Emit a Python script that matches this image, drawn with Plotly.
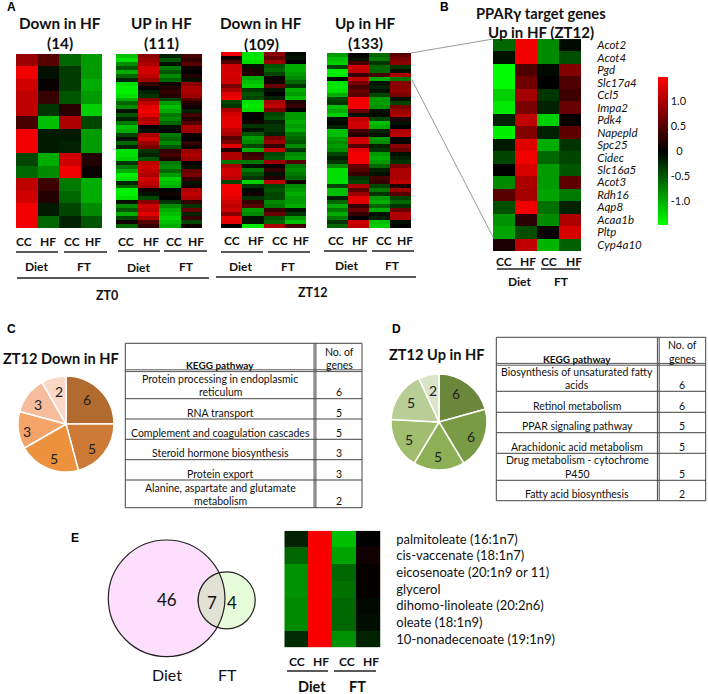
import numpy as np
import plotly.graph_objects as go

W, H = 708, 694
ZMAX = 1.48
COLORS = [[0, "rgb(0,255,0)"], [0.5, "rgb(0,0,0)"], [1, "rgb(255,0,0)"]]
GROUPS = ["CC", "HF", "CC ", "HF "]

down_zt0 = [
    [0.9, 0.5, -0.6, -0.9], [1.4, -0.1, -0.35, -0.9], [1.2, 0.05, -0.35, -1.0], [1.1, 0.3, -0.5, -0.9],
    [1.1, -0.3, 0.25, -1.2], [0.4, -1.1, 1.0, -0.4], [1.4, -0.15, -0.15, -0.9], [1.4, -0.15, -0.2, -0.9],
    [-0.4, -1.0, 1.2, 0.2], [-0.6, -0.8, 1.4, 0.05], [1.1, 0.35, -0.7, -1.0], [1.2, 0.2, -0.6, -1.0],
    [1.4, -0.15, -0.4, -0.8], [1.4, -0.6, -0.2, -0.5],
]
up_zt0 = [
    [-1.1, 0.8, -0.2, 0.4], [-1.3, 0.9, -0.5, 0.3], [-0.8, 1.0, -0.1, 0.5], [-0.5, 1.2, -0.7, 0.1],
    [-1.0, 1.2, -0.5, 0.0], [-0.6, 1.1, -0.8, 0.2], [-0.2, 0.9, -0.6, -0.1], [-1.3, 0.3, 0.1, 0.8],
    [-1.4, 0.0, 0.2, 1.0], [-1.4, -0.2, 0.3, 1.0], [-1.3, -0.3, 0.2, 0.9], [-1.0, 0.8, -0.4, 0.5],
    [-0.6, 1.1, -0.9, 0.2], [-0.8, 1.3, -1.1, 0.1], [-0.1, 1.4, -1.0, -0.2], [-0.5, 1.3, -0.7, 0.4],
    [-0.2, 1.0, -0.8, 0.2], [-0.7, 1.1, -0.6, 0.5], [-1.1, 0.0, -0.1, 1.0], [-1.0, -0.1, 0.0, 0.9],
    [-0.4, 1.0, -0.7, 0.1], [-0.1, 1.2, -0.6, 0.0], [-0.6, 0.9, -0.8, 0.3], [-0.2, 0.7, -0.5, 0.1],
    [-1.3, -0.3, 0.3, 0.9], [-1.3, -0.2, 0.4, 1.0], [-1.2, -0.5, 0.2, 0.9], [-0.3, 1.1, -0.7, 0.0],
    [-0.7, 1.2, -0.8, -0.1], [-1.0, 1.1, -0.6, 0.6], [-1.4, 1.0, -0.9, 0.7], [-1.3, 1.2, -1.2, 0.3],
    [-0.2, 1.1, -1.1, -0.1], [-0.6, 1.0, -1.0, 0.1], [-1.4, 0.1, 0.0, 1.0], [-1.4, -0.1, 0.1, 1.1],
    [-1.3, -0.4, 0.0, 1.0], [-0.1, 0.8, -0.3, 0.3], [-0.8, 1.2, -0.8, -0.3], [-0.5, 1.1, -1.0, 0.6],
    [-1.0, 1.3, -1.1, -0.2], [-0.4, 1.0, -1.2, 0.3], [0.1, 0.5, -1.1, -0.4], [-0.6, 0.3, -1.0, 0.1],
]
down_zt12 = [
    [1.4, -1.3, 0.8, -0.05], [0.1, -1.35, 0.6, -0.1], [0.5, -1.3, 0.9, 0.0], [1.2, -0.1, -0.5, -1.0],
    [1.2, 0.15, -0.6, -1.0], [1.25, 0.2, -0.4, -0.9], [1.2, -1.0, 0.05, -0.8], [1.2, -1.1, 0.1, -0.6],
    [0.7, -1.2, 0.6, -0.3], [1.0, -0.3, -0.1, -1.0], [1.3, -0.5, 0.0, -0.9], [1.4, -0.4, -0.2, -1.1],
    [-0.4, -1.3, 1.0, 0.2], [-0.3, -1.35, 1.1, 0.3], [1.0, -1.3, 0.7, 0.0], [1.2, 0.05, -0.4, -0.9],
    [1.3, 0.0, -0.5, -0.9], [1.3, 0.1, -0.2, -1.0], [1.3, -0.3, -0.3, -0.9], [1.1, -0.1, -0.3, -1.0],
    [1.0, -0.5, -0.2, -0.7], [0.5, -0.9, 0.7, -0.6], [0.7, -0.8, 0.9, -0.5], [1.3, -0.4, 0.3, -0.8],
    [0.2, -1.0, 1.1, -0.3], [1.0, 0.3, -0.4, -0.8], [1.0, 0.4, -0.5, -0.9], [-0.7, -0.7, 0.9, 0.5],
    [1.0, -0.1, 0.05, -0.7], [1.2, -0.7, 0.3, -0.8], [1.2, -0.5, -0.1, -0.7], [1.1, -0.3, 0.2, -0.6],
    [-0.4, -1.2, 1.1, 0.1], [1.4, -0.3, -0.4, -0.8], [1.4, -0.05, -0.5, -0.9], [1.4, 0.1, -0.4, -1.0],
    [1.3, -0.3, -0.4, -0.9], [1.2, 0.3, -0.8, -0.9], [1.1, 0.5, -0.7, -1.0], [1.2, -0.9, 0.3, -0.1],
    [0.8, -0.8, 0.6, -0.3], [1.4, -0.1, -0.5, -0.9], [1.3, -0.1, -0.6, -1.1], [0.0, -1.35, 1.0, 0.4],
]
up_zt12 = [
    [-0.9, 0.0, -0.6, 0.5], [-1.1, -0.1, -0.7, 0.7], [-1.2, 0.4, -0.3, 0.8], [-0.4, 1.2, -0.6, -0.3],
    [-1.4, 1.1, -0.6, -0.1], [-1.35, 0.3, 0.4, 1.0], [-0.05, 1.1, -1.0, -0.7], [-1.3, 0.7, -0.1, 0.8],
    [-1.35, 0.4, -0.2, 0.8], [-1.3, 0.6, -0.1, 0.85], [-1.0, 0.5, -0.4, 0.7], [-0.4, 1.4, -0.9, -0.1],
    [-0.3, 1.4, -0.9, -0.4], [-1.1, 1.4, -0.85, 0.7], [-1.0, 0.6, -0.1, 0.9], [-1.2, -0.1, -0.05, 1.0],
    [-0.1, 1.1, -0.4, 0.2], [-0.05, 1.2, -1.1, -0.1], [-0.2, 1.2, -1.0, 0.0], [-1.1, 0.4, -0.2, 1.0],
    [-1.1, 0.2, -0.1, 1.1], [-0.9, 1.2, -0.9, -0.05], [-0.8, 1.2, -0.8, 0.05], [-0.9, 0.5, -0.2, 0.8],
    [-0.8, 1.3, -0.3, 0.6], [-0.4, 1.4, -0.9, -0.1], [-0.2, 1.4, -1.0, -0.2], [-0.3, 1.4, -0.9, -0.3],
    [-0.8, 0.6, -0.6, 0.7], [-1.3, 0.5, -0.2, 1.0], [-1.3, 0.3, -0.1, 1.0], [-1.3, -0.3, 0.4, 1.0],
    [-1.3, -0.4, 0.3, 1.1], [-0.4, 1.0, -0.4, 0.2], [-1.1, 0.5, -0.7, 0.9], [-1.1, 0.9, -0.3, 0.5],
    [-0.2, 1.3, -0.9, -0.4], [-0.6, 1.3, -1.0, -0.6], [-1.0, 0.3, -0.6, -0.3], [-0.7, 0.6, -1.0, 0.6],
    [-1.0, 0.3, -0.1, 1.0], [-0.7, 0.0, -0.2, 1.0], [-0.3, 1.2, -1.1, -0.1], [-0.6, 1.1, -1.2, 0.0],
]

ppar_genes = ["Acot2", "Acot4", "Pgd", "Slc17a4", "Ccl5", "Impa2", "Pdk4", "Napepld", "Spc25",
              "Cidec", "Slc16a5", "Acot3", "Rdh16", "Aqp8", "Acaa1b", "Pltp", "Cyp4a10"]
ppar_values = [
    [-0.6, 1.4, -0.8, -0.05], [-0.1, 1.4, -0.8, -0.45], [-1.45, 0.45, -0.05, 0.75], [-1.45, 0.65, 0.0, 0.45],
    [-1.2, 0.95, -0.3, 0.35], [-1.35, 0.7, -0.2, 0.6], [-0.2, 1.1, -1.2, 0.02], [-1.4, 0.75, -0.2, 0.55],
    [-0.15, 1.3, -1.0, -0.3], [-0.4, 1.4, -0.6, -0.4], [0.0, 1.25, -0.9, -0.5], [-0.8, 1.0, -0.9, 0.55],
    [0.5, 0.95, -0.95, -0.7], [-0.45, 1.4, -0.65, -0.2], [-0.85, 0.25, -0.8, 1.0], [-0.95, -0.45, 0.05, 1.25],
    [0.15, 1.1, -1.05, -0.55],
]
lipids = ["palmitoleate (16:1n7)", "cis-vaccenate (18:1n7)", "eicosenoate (20:1n9 or 11)", "glycerol",
          "dihomo-linoleate (20:2n6)", "oleate (18:1n9)", "10-nonadecenoate (19:1n9)"]
lipid_values = [
    [-0.2, 1.45, -1.1, 0.0], [-0.6, 1.45, -0.95, 0.1], [-0.85, 1.45, -0.6, 0.03], [-0.85, 1.45, -0.65, 0.03],
    [-0.8, 1.45, -0.6, -0.05], [-0.8, 1.45, -0.6, -0.08], [-0.25, 1.45, -0.85, -0.2],
]
colorbar_ticks = [1.0, 0.5, 0, -0.5, -1.0]
colorbar_text = ["1.0", "0.5", "\u00a0\u00a00", "-0.5", "-1.0"]

pie_down_values = [6, 5, 5, 3, 3, 2]
pie_down_colors = ["#b26b2f", "#cc7a36", "#ec913e", "#f4a468", "#f5bd9b", "#f9d8c6"]
pie_up_values = [6, 6, 5, 5, 5, 2]
pie_up_colors = ["#6a873c", "#7a9b46", "#8daf55", "#a0be6e", "#b9cd96", "#dae4c8"]

table_c_names = [["Protein processing in endoplasmic", "reticulum"], ["RNA transport"],
                 ["Complement and coagulation cascades"], ["Steroid hormone biosynthesis"],
                 ["Protein export"], ["Alanine, aspartate and glutamate", "metabolism"]]
table_d_names = [["Biosynthesis of unsaturated fatty", "acids"], ["Retinol metabolism"],
                 ["PPAR signaling pathway"], ["Arachidonic acid metabolism"],
                 ["Drug metabolism - cytochrome", "P450"], ["Fatty acid biosynthesis"]]

venn_only_diet, venn_both, venn_only_ft = 46, 7, 4

FONT = "Lato, Calibri, sans-serif"
fig = go.Figure()
shapes, notes = [], []
layout = {}


def text(x, y, s, size=13, bold=False, color="#111", anchor="center", font=FONT):
    if bold:
        s = "<b>" + s + "</b>"
    notes.append(dict(x=x, y=y, xref="x", yref="y", text=s, showarrow=False, xanchor=anchor, yanchor="middle",
                      font=dict(size=size, color=color, family=font)))


def line(x0, y0, x1, y1, color="#222", width=1.4):
    shapes.append(dict(type="line", xref="x", yref="y", x0=x0, y0=y0, x1=x1, y1=y1,
                       line=dict(color=color, width=width), layer="above"))


n_axis = [1]


def heat(values, box, labels=None, tick_gap=10, colorbar=None, tick_size=14, italic=False):
    n_axis[0] += 1
    i = n_axis[0]
    x0, y0, x1, y1 = box
    rows = labels if labels else list(range(len(values)))
    kw = dict(colorbar=colorbar, showscale=True) if colorbar else dict(showscale=False)
    fig.add_trace(go.Heatmap(z=values, x=GROUPS, y=rows, zmin=-ZMAX, zmax=ZMAX, colorscale=COLORS,
                             xaxis=f"x{i}", yaxis=f"y{i}", **kw))
    layout[f"xaxis{i}"] = dict(domain=[x0 / W, x1 / W], anchor=f"y{i}", showticklabels=False, ticks="",
                               showgrid=False, zeroline=False, type="category")
    yax = dict(domain=[1 - y1 / H, 1 - y0 / H], anchor=f"x{i}", autorange="reversed", showgrid=False,
               zeroline=False, ticks="", showticklabels=False)
    if labels:
        yax.update(type="category", showticklabels=True, side="right", ticks="outside", ticklen=tick_gap,
                   tickcolor="rgba(0,0,0,0)", tickmode="array", tickvals=labels,
                   tickfont=dict(size=tick_size, family=FONT, color="#111", style="italic" if italic else "normal"))
    layout[f"yaxis{i}"] = yax


# background pixel axes
fig.add_trace(go.Scatter(x=[0, W], y=[0, H], mode="markers", marker=dict(opacity=0), hoverinfo="skip",
                         showlegend=False))
layout["xaxis"] = dict(range=[0, W], domain=[0, 1], visible=False, fixedrange=True)
layout["yaxis"] = dict(range=[H, 0], domain=[0, 1], visible=False, fixedrange=True)

# Panel A
panels = [
    (down_zt0, (16, 54, 102, 228), "Down in HF", "(14)", 60, 43,
     [24, 48, 72, 93], 241, (16, 58, 64, 107), 252, (36, 84), (266, 266)),
    (up_zt0, (116, 54, 202, 228), "UP in HF", "(111)", 161, 43,
     [126, 151, 174, 196], 241, (118, 160, 164, 207), 251, (138, 186), (267, 266)),
    (down_zt12, (221, 52, 306, 228), "Down in HF", "(109)", 261, 44,
     [232, 256, 280, 301], 240, (221, 263, 268, 310), 252, (240, 288), (266, 266)),
    (up_zt12, (327, 53, 411, 228), "Up in HF", "(133)", 365, 43,
     [336, 360, 384, 405], 240, (324, 367, 372, 414), 251, (346, 392), (265, 265)),
]
for vals, box, t1, t2, tx, ty2, gx, gy, ln, ly, dx, dy in panels:
    heat(vals, box)
    text(tx, 23, t1, 15.3, True)
    text(tx, ty2, t2, 15.3, True)
    for x, g in zip(gx, GROUPS):
        text(x, gy, g.strip(), 12, True)
    line(ln[0], ly, ln[1], ly)
    line(ln[2], ly, ln[3], ly)
    text(dx[0], dy[0], "Diet", 12, True)
    text(dx[1], dy[1], "FT", 12, True)
line(17, 278, 209, 278)
line(216, 277, 416, 277)
text(107, 295, "ZT0", 12.5, True)
text(313, 292, "ZT12", 12.5, True)
for x, y, s in [(11, 7, "A"), (444, 7, "B"), (11, 329, "C"), (396, 329, "D"), (75, 538, "E")]:
    text(x, y, s, 12, True, "#000", font="Liberation Sans, Arial, sans-serif")

# Panel B
heat(ppar_values, (493, 39, 581, 251), labels=ppar_genes, tick_gap=13, tick_size=11.5, italic=True,
     colorbar=dict(x=658 / W, xanchor="left", xref="paper", y=1 - 151 / H, yanchor="middle", yref="paper",
                   lenmode="pixels", len=148, thicknessmode="pixels", thickness=10, outlinewidth=0, xpad=0, ypad=0,
                   tickmode="array", tickvals=colorbar_ticks, ticktext=colorbar_text, ticks="", ticklabelposition="outside",
                   tickfont=dict(size=11, family=FONT, color="#111")))
text(541, 13, "PPARγ target genes", 14.7, True)
text(541, 32, "Up in HF (ZT12)", 15, True)
for x, g in zip([504, 528, 549, 574], GROUPS):
    text(x, 261, g.strip(), 12, True)
line(497, 269, 534, 269)
line(541, 269, 580, 269)
text(519, 281, "Diet", 12, True)
text(561, 281, "FT", 12, True)
line(411, 53, 493, 39, "#999", 1)
line(412, 80, 493, 237, "#999", 1)


# Pies
def pie(values, colors, cx, cy, r, label_xy):
    fig.add_trace(go.Pie(values=values, marker=dict(colors=colors, line=dict(color="white", width=1.5)),
                         sort=False, direction="clockwise", rotation=0, textinfo="none",
                         domain=dict(x=[(cx - r) / W, (cx + r) / W], y=[1 - (cy + r) / H, 1 - (cy - r) / H]),
                         showlegend=False))
    for v, (x, y) in zip(values, label_xy):
        text(x, y, str(v), 14, False, "#222")


pie(pie_down_values, pie_down_colors, 66, 424, 48,
    [(87, 399), (92, 448), (54, 458), (27, 431), (38, 404), (59, 391)])
pie(pie_up_values, pie_up_colors, 439, 422, 48,
    [(456, 393), (471, 436), (438, 456), (409, 439), (411, 402), (433, 390)])
text(61, 358, "ZT12 Down in HF", 14.6, True)
text(437, 354, "ZT12 Up in HF", 14.6, True)


# Tables
def table(left, right, top, bottom, split, header, rows_y, name_x, num_x, head_y, no_y, names, nums, text_ys, num_ys):
    for x in (left, right):
        line(x, top, x, bottom, "#444", 1)
    line(left, top, right, top, "#444", 1)
    line(left, bottom, right, bottom, "#444", 1)
    line(split - 0.9, top, split - 0.9, bottom, "#444", 1)
    line(split + 0.9, top, split + 0.9, bottom, "#444", 1)
    line(left, header - 0.9, right, header - 0.9, "#555", 1)
    line(left, header + 0.9, right, header + 0.9, "#555", 1)
    for y in rows_y:
        line(left, y, right, y, "#444", 1)
    text(name_x, head_y, "KEGG pathway", 10, True)
    text(num_x, no_y[0], "No. of", 10.5)
    text(num_x, no_y[1], "genes", 10.5)
    for name, n, ys, ny in zip(names, nums, text_ys, num_ys):
        for s, y in zip(name, ys):
            text(name_x, y, s, 10.5)
        text(num_x, ny, str(n), 10.5)


table(125.3, 362, 343.3, 507.7, 315, 370.7, [398.7, 419, 439.3, 459.7, 480], 220, 339, 365, (352, 365),
      table_c_names, pie_down_values,
      [(379, 392), (413,), (433,), (453,), (474,), (488, 501)], [392, 413, 433, 453, 474, 501])
table(496.3, 705.7, 337.3, 500.7, 658.3, 364.3, [391.3, 412.3, 432.7, 453.3, 480.3], 577, 682, 359, (345, 359),
      table_d_names, pie_up_values,
      [(372, 385), (406,), (426,), (447,), (460, 474), (494,)], [385, 406, 426, 447, 474, 494])

# Panel E: Venn
c1, r1 = (166.6, 598.3), 58.3
c2, r2 = (226.7, 600.3), 28.5


def circle(c, r, fill):
    shapes.append(dict(type="circle", xref="x", yref="y", x0=c[0] - r, x1=c[0] + r, y0=c[1] - r, y1=c[1] + r,
                       fillcolor=fill, line=dict(color="#222", width=1.2), layer="below"))


circle(c1, r1, "rgb(253,222,253)")
circle(c2, r2, "rgb(230,252,218)")
t = np.linspace(0, 2 * np.pi, 361)
a = np.column_stack([c2[0] + r2 * np.cos(t), c2[1] + r2 * np.sin(t)])
a = a[np.hypot(a[:, 0] - c1[0], a[:, 1] - c1[1]) <= r1]
b = np.column_stack([c1[0] + r1 * np.cos(t), c1[1] + r1 * np.sin(t)])
b = b[np.hypot(b[:, 0] - c2[0], b[:, 1] - c2[1]) <= r2]
pts = np.vstack([a, b])
order = np.argsort(np.arctan2(pts[:, 1] - 600, pts[:, 0] - 211))
pts = pts[order]
shapes.append(dict(type="path", xref="x", yref="y", layer="below", fillcolor="rgb(226,226,212)",
                   line=dict(color="#222", width=1.2),
                   path="M " + " L ".join(f"{x:.2f} {y:.2f}" for x, y in pts) + " Z"))
text(167, 599, str(venn_only_diet), 17)
text(212, 602, str(venn_both), 17)
text(232, 602, str(venn_only_ft), 17)
text(167, 674, "Diet", 16)
text(227, 674, "FT", 16)

heat(lipid_values, (284.3, 530.7, 380.7, 647.3), labels=lipids, tick_gap=12, tick_size=13)
for x, g in zip([297, 321, 347, 371], GROUPS):
    text(x, 661, g.strip(), 12, True)
line(287, 671, 328, 671)
line(334, 671, 376, 671)
text(312, 686, "Diet", 14.5, True)
text(357, 686, "FT", 14.5, True)

fig.update_layout(width=W, height=H, margin=dict(l=0, r=0, t=0, b=0), autosize=False,
                  paper_bgcolor="white", plot_bgcolor="white", shapes=shapes, annotations=notes,
                  showlegend=False, font=dict(family=FONT), **layout)
fig.write_html("out.html", config=dict(displayModeBar=False),
               post_script="document.body.style.margin='0';document.documentElement.style.overflow='hidden';")
